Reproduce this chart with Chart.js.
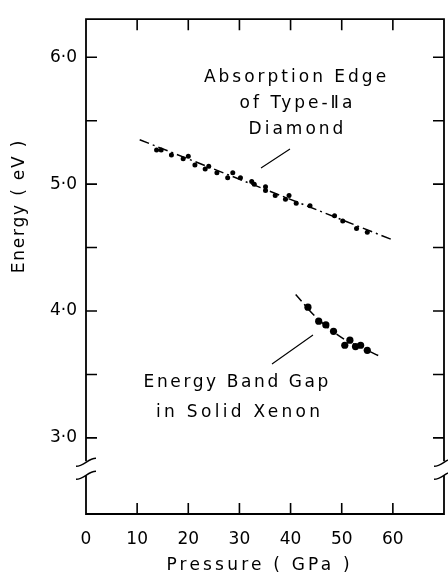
<!DOCTYPE html>
<html>
<head>
<meta charset="utf-8">
<script src="https://cdn.jsdelivr.net/npm/chart.js@4"></script>
<style>
  html, body { margin: 0; padding: 0; background: #fff; }
  canvas { display: block; }
</style>
</head>
<body>
<canvas id="chart" width="448" height="579"></canvas>
<script>
// Absorption edge of type-IIa diamond (pressure GPa, energy eV)
const diamondP = [13.8, 14.7, 16.7, 19.0, 20.0, 21.3, 23.3, 24.0, 25.6, 27.7, 28.7, 30.2, 32.4, 32.9,
  35.1, 35.1, 37.0, 39.0, 39.7, 41.1, 43.8, 48.6, 50.2, 52.9, 55.0];
const diamondE = [5.27, 5.27, 5.23, 5.20, 5.22, 5.15, 5.12, 5.14, 5.09, 5.05, 5.09, 5.05, 5.02, 5.00,
  4.98, 4.95, 4.91, 4.88, 4.91, 4.85, 4.83, 4.75, 4.71, 4.65, 4.62];
const diamondFitP = [10.5, 60];
const diamondFitE = [5.35, 4.56];

// Energy band gap in solid xenon
const xenonP = [43.4, 45.5, 46.9, 48.4, 50.6, 51.6, 52.7, 53.7, 55.0];
const xenonE = [4.03, 3.92, 3.89, 3.84, 3.73, 3.77, 3.72, 3.73, 3.69];
const xenonFitP = [41.0, 45.0, 50.0, 55.0, 57.6];
const xenonFitE = [4.13, 3.95, 3.79, 3.69, 3.64];

const xTicks = [0, 10, 20, 30, 40, 50, 60];
const yTicks = [3.0, 3.5, 4.0, 4.5, 5.0, 5.5, 6.0];
const yBreak = 2.76;

const FONT = '"DejaVu Sans", sans-serif';

function pts(xs, ys) {
  return xs.map((x, i) => ({ x, y: ys[i] }));
}

function text(ctx, str, x, y, spacing) {
  ctx.letterSpacing = spacing + 'px';
  ctx.fillText(str, x + spacing / 2, y);
  ctx.letterSpacing = '0px';
}

const decor = {
  id: 'decor',
  afterDraw(chart) {
    const ctx = chart.ctx;
    const xs = chart.scales.x, ys = chart.scales.y;
    const { left, right, top, bottom } = chart.chartArea;
    const by = ys.getPixelForValue(yBreak);
    const tick = 11;

    ctx.save();
    ctx.strokeStyle = '#000';
    ctx.lineWidth = 1.8;
    ctx.lineCap = 'butt';

    // frame with breaks on the vertical sides
    ctx.beginPath();
    ctx.moveTo(left, by - 7);
    ctx.lineTo(left, top);
    ctx.lineTo(right, top);
    ctx.lineTo(right, by - 7);
    ctx.moveTo(left, by + 7);
    ctx.lineTo(left, bottom);
    ctx.lineTo(right, bottom);
    ctx.lineTo(right, by + 7);
    ctx.stroke();

    // break marks
    ctx.lineWidth = 1.5;
    [left, right].forEach(ax => {
      [-6, 7].forEach(o => {
        ctx.beginPath();
        ctx.moveTo(ax - 10, by + o + 4);
        ctx.bezierCurveTo(ax - 2, by + o + 4, ax + 2, by + o - 4, ax + 10, by + o - 4);
        ctx.stroke();
      });
    });

    // inward tick marks
    ctx.lineWidth = 1.6;
    ctx.beginPath();
    xTicks.filter(v => v > 0).forEach(v => {
      const px = xs.getPixelForValue(v);
      ctx.moveTo(px, bottom);
      ctx.lineTo(px, bottom - tick);
      ctx.moveTo(px, top);
      ctx.lineTo(px, top + tick);
    });
    yTicks.forEach(v => {
      const py = ys.getPixelForValue(v);
      ctx.moveTo(left, py);
      ctx.lineTo(left + tick, py);
      ctx.moveTo(right, py);
      ctx.lineTo(right - tick, py);
    });
    ctx.stroke();

    // leader lines
    ctx.lineWidth = 1.1;
    ctx.beginPath();
    ctx.moveTo(290, 149);
    ctx.lineTo(261, 168);
    ctx.moveTo(313, 335);
    ctx.lineTo(272, 364);
    ctx.stroke();

    // annotations
    ctx.fillStyle = '#000';
    ctx.font = '17px ' + FONT;
    ctx.textAlign = 'center';
    ctx.textBaseline = 'middle';
    text(ctx, 'Absorption Edge', 295, 78, 3);
    text(ctx, 'of Type-Ⅱa', 296, 104, 3);
    text(ctx, 'Diamond', 296, 130, 3);
    text(ctx, 'Energy Band Gap', 236, 383, 2.6);
    text(ctx, 'in Solid Xenon', 238, 413, 3.3);

    // axis titles
    text(ctx, 'Pressure ( GPa )', 258, 566, 3.2);
    ctx.translate(20, 207);
    ctx.rotate(-Math.PI / 2);
    text(ctx, 'Energy ( eV )', 0, 0, 1.8);
    ctx.restore();
  }
};

new Chart(document.getElementById('chart'), {
  type: 'scatter',
  data: {
    datasets: [
      {
        data: pts(diamondP, diamondE),
        pointRadius: 2.5,
        pointBackgroundColor: '#000',
        pointBorderWidth: 0,
        showLine: false
      },
      {
        data: pts(xenonP, xenonE),
        pointRadius: 3.6,
        pointBackgroundColor: '#000',
        pointBorderWidth: 0,
        showLine: false
      },
      {
        data: pts(diamondFitP, diamondFitE),
        showLine: true,
        pointRadius: 0,
        borderColor: '#000',
        borderWidth: 1.5,
        borderDash: [10, 4, 2, 4]
      },
      {
        data: pts(xenonFitP, xenonFitE),
        showLine: true,
        pointRadius: 0,
        borderColor: '#000',
        borderWidth: 1.5,
        borderDash: [9, 4, 2, 4],
        cubicInterpolationMode: 'monotone'
      }
    ]
  },
  options: {
    responsive: false,
    animation: false,
    layout: { padding: { top: 14, right: 1, left: 0, bottom: 0 } },
    plugins: {
      legend: { display: false },
      tooltip: { enabled: false }
    },
    scales: {
      x: {
        type: 'linear',
        min: 0,
        max: 70,
        grid: { display: false, drawTicks: false },
        border: { display: false },
        afterBuildTicks: s => { s.ticks = xTicks.map(v => ({ value: v })); },
        afterFit: s => { s.height = 65; },
        ticks: {
          padding: 15,
          color: '#000',
          font: { family: FONT, size: 17 },
          callback: v => String(v)
        }
      },
      y: {
        type: 'linear',
        min: 2.4,
        max: 6.3,
        grid: { display: false, drawTicks: false },
        border: { display: false },
        afterBuildTicks: s => { s.ticks = yTicks.map(v => ({ value: v })); },
        afterFit: s => { s.width = 86; },
        ticks: {
          padding: 9,
          color: '#000',
          font: { family: FONT, size: 17 },
          callback: v => Number.isInteger(v) ? v.toFixed(1).replace('.', '·') : ''
        }
      }
    }
  },
  plugins: [decor]
});
</script>
</body>
</html>
